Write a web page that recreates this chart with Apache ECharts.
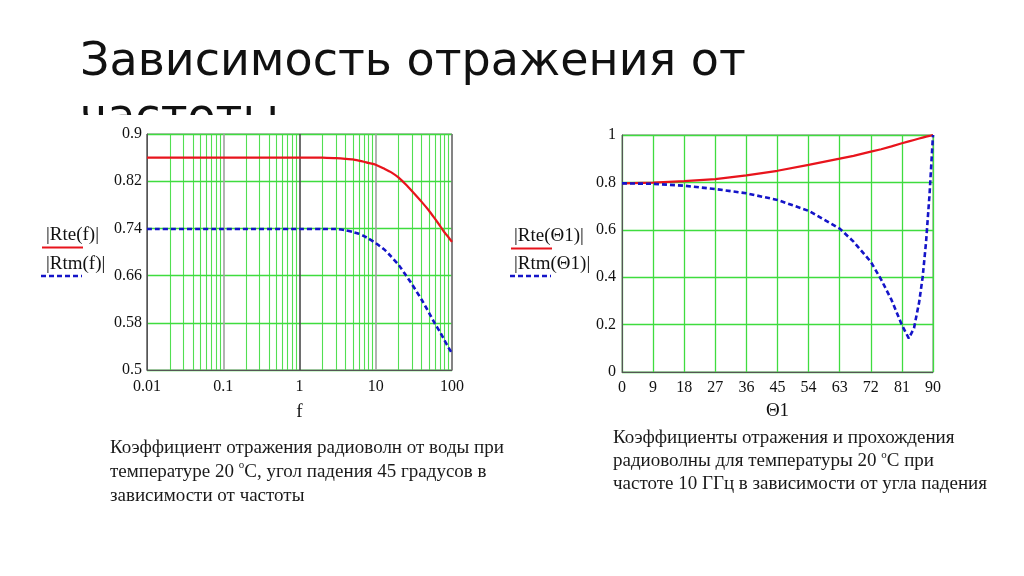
<!DOCTYPE html>
<html>
<head>
<meta charset="utf-8">
<script src="https://cdn.jsdelivr.net/npm/echarts@6/dist/echarts.min.js"></script>
<style>
html,body{margin:0;padding:0;background:#fff;}
#c{width:1024px;height:576px;}
</style>
</head>
<body>
<div id="c"></div>
<script>
// ---- Left chart: reflection vs frequency (log axis) ----
const freq   = [0.01, 0.1, 1, 2, 3, 4, 5, 6, 7, 8, 10, 13, 16, 20, 25, 30, 40, 50, 60, 70, 80, 90, 100];
const rteF   = [0.86, 0.86, 0.86, 0.86, 0.859, 0.858, 0.857, 0.855, 0.853, 0.851, 0.848, 0.841, 0.835, 0.826, 0.814, 0.803, 0.785, 0.770, 0.756, 0.744, 0.733, 0.725, 0.717];
const rtmF   = [0.739, 0.739, 0.739, 0.739, 0.739, 0.737, 0.734, 0.731, 0.727, 0.723, 0.715, 0.704, 0.692, 0.678, 0.660, 0.645, 0.619, 0.597, 0.578, 0.564, 0.550, 0.538, 0.528];
const minorFreqLines = [0.02,0.03,0.04,0.05,0.06,0.07,0.08,0.09, 0.2,0.3,0.4,0.5,0.6,0.7,0.8,0.9, 2,3,4,5,6,7,8,9, 20,30,40,50,60,70,80,90];

// ---- Right chart: reflection vs incidence angle ----
const theta  = [0, 9, 18, 27, 36, 45, 54, 63, 67, 72, 75, 78, 81, 83, 84.5, 86, 87, 88, 89, 90];
const rteT   = [0.796, 0.799, 0.805, 0.814, 0.830, 0.849, 0.874, 0.900, 0.912, 0.930, 0.940, 0.952, 0.965, 0.973, 0.979, 0.985, 0.989, 0.993, 0.996, 1.0];
const rtmT   = [0.796, 0.794, 0.786, 0.772, 0.754, 0.726, 0.680, 0.605, 0.550, 0.465, 0.390, 0.304, 0.198, 0.142, 0.185, 0.295, 0.400, 0.550, 0.750, 1.0];

const titleLine1 = 'Зависимость отражения от';
const titleLine2 = 'частоты';
const captionLeft  = 'Коэффициент отражения радиоволн от воды при\nтемпературе 20 {s|o}C, угол падения 45 градусов в\nзависимости от частоты';
const captionRight = 'Коэффициенты отражения и прохождения\nрадиоволны для температуры 20 {s|o}C при\nчастоте 10 ГГц в зависимости от угла падения';

const GREEN = '#3fdc3f';
const RED = '#e8141c';
const BLUE = '#1414c8';
const SERIF = '"Liberation Serif","Times New Roman",serif';

const pairs = (xs, ys) => xs.map((x, i) => [x, ys[i]]);

const chart = echarts.init(document.getElementById('c'), null, {renderer: 'canvas'});

const axisLabelStyle = {color: '#111', fontFamily: SERIF, fontSize: 16};

chart.setOption({
  animation: false,
  backgroundColor: '#fff',
  grid: [
    {left: 147, top: 134, width: 305, height: 236, show: true, borderColor: '#777', borderWidth: 1, backgroundColor: 'transparent', z: 3},
    {left: 622, top: 135, width: 311, height: 237, show: true, borderColor: '#777', borderWidth: 1, backgroundColor: 'transparent', z: 3}
  ],
  xAxis: [
    {
      gridIndex: 0, type: 'log', logBase: 10, min: 0.01, max: 100,
      name: 'f', nameLocation: 'middle', nameGap: 33,
      nameTextStyle: {color: '#111', fontFamily: SERIF, fontSize: 19},
      axisLine: {show: true, lineStyle: {color: '#555', width: 1}},
      axisTick: {show: false},
      axisLabel: Object.assign({margin: 9, formatter: v => String(v)}, axisLabelStyle),
      splitLine: {show: true, lineStyle: {color: ['#777', '#a0a0a0', '#4a4a4a', '#a0a0a0', '#777'], width: 1.6}},
      z: 5
    },
    {
      gridIndex: 1, type: 'value', min: 0, max: 90, interval: 9,
      name: 'Θ1', nameLocation: 'middle', nameGap: 30,
      nameTextStyle: {color: '#111', fontFamily: SERIF, fontSize: 19},
      axisLine: {show: true, lineStyle: {color: '#555', width: 1}},
      axisTick: {show: false},
      axisLabel: Object.assign({margin: 8}, axisLabelStyle),
      splitLine: {show: true, lineStyle: {color: GREEN, width: 1.3}},
      z: 5
    }
  ],
  yAxis: [
    {
      gridIndex: 0, type: 'value', min: 0.5, max: 0.9, interval: 0.08,
      axisLine: {show: true, lineStyle: {color: '#555', width: 1}},
      axisTick: {show: false},
      axisLabel: Object.assign({margin: 5, formatter: v => String(+v.toFixed(2))}, axisLabelStyle),
      splitLine: {show: true, lineStyle: {color: GREEN, width: 1.3}},
      z: 5
    },
    {
      gridIndex: 1, type: 'value', min: 0, max: 1, interval: 0.2,
      axisLine: {show: true, lineStyle: {color: '#555', width: 1}},
      axisTick: {show: false},
      axisLabel: Object.assign({margin: 6, formatter: v => String(+v.toFixed(1))}, axisLabelStyle),
      splitLine: {show: true, lineStyle: {color: GREEN, width: 1.3}},
      z: 5
    }
  ],
  series: [
    {
      type: 'line', xAxisIndex: 0, yAxisIndex: 0, data: [], z: 2, silent: true,
      markLine: {
        silent: true, symbol: 'none', animation: false,
        label: {show: false},
        lineStyle: {type: 'solid', color: GREEN, width: 1.1, opacity: 0.9},
        emphasis: {disabled: true},
        data: minorFreqLines.map(v => ({xAxis: v}))
      }
    },
    {
      name: '|Rte(f)|', type: 'line', xAxisIndex: 0, yAxisIndex: 0, z: 6,
      data: pairs(freq, rteF), showSymbol: false, symbol: 'none', smooth: 0.2,
      lineStyle: {color: RED, width: 2.2}
    },
    {
      name: '|Rtm(f)|', type: 'line', xAxisIndex: 0, yAxisIndex: 0, z: 6,
      data: pairs(freq, rtmF), showSymbol: false, symbol: 'none', smooth: 0.2,
      lineStyle: {color: BLUE, width: 2.6, type: [5, 3]}
    },
    {
      name: '|Rte(Θ1)|', type: 'line', xAxisIndex: 1, yAxisIndex: 1, z: 6,
      data: pairs(theta, rteT), showSymbol: false, symbol: 'none',
      lineStyle: {color: RED, width: 2.2}
    },
    {
      name: '|Rtm(Θ1)|', type: 'line', xAxisIndex: 1, yAxisIndex: 1, z: 6,
      data: pairs(theta, rtmT), showSymbol: false, symbol: 'none',
      lineStyle: {color: BLUE, width: 2.6, type: [5, 3]}
    }
  ],
  graphic: [
    // Title
    {type: 'text', left: 80, top: 40, z: 0,
      style: {text: titleLine1, fill: '#111', font: '46px "DejaVu Sans", sans-serif'}},
    {type: 'text', left: 80, top: 96, z: 0,
      style: {text: titleLine2, fill: '#111', font: '46px "DejaVu Sans", sans-serif'}},
    {type: 'rect', shape: {x: 60, y: 115, width: 420, height: 18.5}, z: 1,
      style: {fill: '#fff'}},
    // Left legend
    {type: 'text', x: 46, y: 235, z: 10,
      style: {text: '|Rte(f)|', fill: '#111', font: '19px ' + SERIF, verticalAlign: 'middle'}},
    {type: 'line', shape: {x1: 42, y1: 247.5, x2: 83, y2: 247.5}, z: 10,
      style: {stroke: RED, lineWidth: 2.2}},
    {type: 'text', x: 46, y: 264, z: 10,
      style: {text: '|Rtm(f)|', fill: '#111', font: '19px ' + SERIF, verticalAlign: 'middle'}},
    {type: 'line', shape: {x1: 41, y1: 276, x2: 82, y2: 276}, z: 10,
      style: {stroke: BLUE, lineWidth: 2.6, lineDash: [5, 3]}},
    // Right legend
    {type: 'text', x: 514, y: 236, z: 10,
      style: {text: '|Rte(Θ1)|', fill: '#111', font: '19px ' + SERIF, verticalAlign: 'middle'}},
    {type: 'line', shape: {x1: 511, y1: 248.5, x2: 552, y2: 248.5}, z: 10,
      style: {stroke: RED, lineWidth: 2.2}},
    {type: 'text', x: 514, y: 264, z: 10,
      style: {text: '|Rtm(Θ1)|', fill: '#111', font: '19px ' + SERIF, verticalAlign: 'middle'}},
    {type: 'line', shape: {x1: 510, y1: 276, x2: 551, y2: 276}, z: 10,
      style: {stroke: BLUE, lineWidth: 2.6, lineDash: [5, 3]}},
    // Captions
    {type: 'text', x: 110, y: 436, z: 10,
      style: {text: captionLeft, fill: '#1a1a1a', font: '19px ' + SERIF, lineHeight: 24,
        rich: {s: {fontSize: 11, fontFamily: SERIF, verticalAlign: 'top', lineHeight: 14, fill: '#1a1a1a'}}}},
    {type: 'text', x: 613, y: 427, z: 10,
      style: {text: captionRight, fill: '#1a1a1a', font: '19px ' + SERIF, lineHeight: 23,
        rich: {s: {fontSize: 11, fontFamily: SERIF, verticalAlign: 'top', lineHeight: 14, fill: '#1a1a1a'}}}}
  ]
});
</script>
</body>
</html>
